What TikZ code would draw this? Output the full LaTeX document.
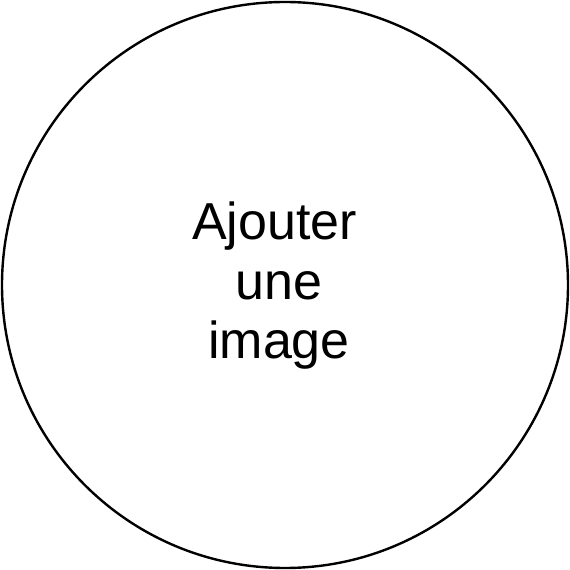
\documentclass[tikz,border=0pt]{standalone}
\usepackage{fontspec}
\setmainfont{Liberation Sans}
\usepackage{tikz}

\begin{document}
\begin{tikzpicture}[x=1pt, y=1pt,
        frame/.style={draw, circle, line width=2.4pt, minimum size=566pt, inner sep=0pt},
        word/.style={anchor=base, inner sep=0pt, font=\fontsize{52}{60}\selectfont}]
    % Bounding box
    \useasboundingbox (0,0) rectangle (570,570);

    % Nodes {frame, caption lines}
    \node [frame]               (frame)  at (285,285)    {};
    \node [word]                (wordA)  at (274.5,330)  {Ajouter};
    \node [word]                (wordB)  at (279,270)    {une};
    \node [word]                (wordC)  at (279,211)    {image};

\end{tikzpicture}
\end{document}
